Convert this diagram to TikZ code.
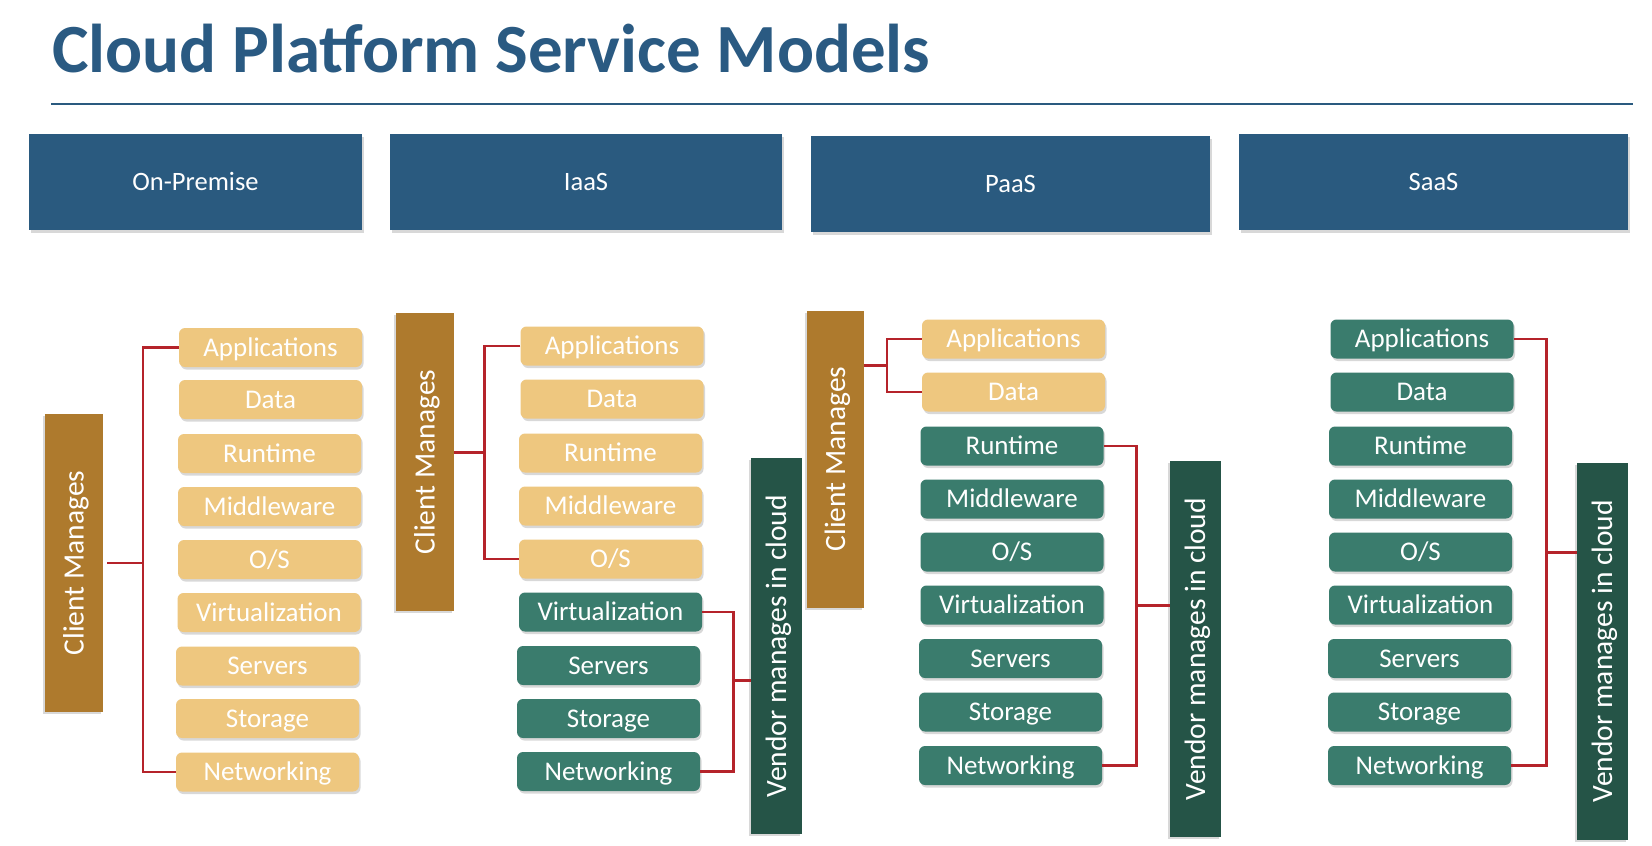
\documentclass[tikz,border=0pt]{standalone}
\usepackage{fontspec}
\setmainfont{Carlito}
\usetikzlibrary{shadows,calc}
\definecolor{cTitle}{HTML}{2A5A82}
\definecolor{cHdr}{HTML}{2A5A7F}
\definecolor{cTan}{HTML}{EEC77F}
\definecolor{cTeal}{HTML}{3A7C6D}
\definecolor{cBrown}{HTML}{AE7A2D}
\definecolor{cDk}{HTML}{255447}
\definecolor{cRed}{HTML}{B5232A}
\tikzset{
  base/.style={inner sep=0pt, text=white, align=center},
  hdr/.style={base, fill=cHdr, font=\fontsize{26.5}{32}\selectfont, text height=22pt, text depth=5pt,
    drop shadow={shadow xshift=2pt, shadow yshift=-3pt, opacity=0.3}},
  itm/.style={base, rounded corners=6pt, font=\fontsize{27}{32}\selectfont, text height=23pt, text depth=5.5pt,
    minimum width=183pt, minimum height=39pt,
    drop shadow={shadow xshift=1.5pt, shadow yshift=-2.5pt, opacity=0.3}},
  cli/.style={itm, fill=cTan},
  ven/.style={itm, fill=cTeal},
  side/.style={base, rotate=90, font=\fontsize{29.5}{35}\selectfont, text height=25pt, text depth=6pt,
    drop shadow={shadow xshift=-2pt, shadow yshift=-2pt, opacity=0.3}},
  cmb/.style={side, fill=cBrown},
  vmb/.style={side, fill=cDk},
  brk/.style={draw=cRed, line width=2.6pt},
}
\begin{document}
\begin{tikzpicture}[x=1pt,y=-1pt]
\useasboundingbox (0,0) rectangle (1652,846);
\fill[white] (0,0) rectangle (1652,846);

% title
\node[anchor=base west, font=\fontsize{69}{82}\selectfont\bfseries, text=cTitle, inner sep=0pt] (title) at (52,72) {Cloud Platform Service Models};
\coordinate (rl) at (51,104);
\coordinate (rr) at (1633,104);
\draw[cHdr, line width=2pt] (rl) -- (rr);

% headers
\node[hdr, minimum width=333pt, minimum height=96pt] (h1) at (195.5,182) {On-Premise};
\node[hdr, minimum width=392pt, minimum height=96pt] (h2) at (586,182) {IaaS};
\node[hdr, minimum width=399pt, minimum height=96pt] (h3) at (1010.5,184) {PaaS};
\node[hdr, minimum width=389pt, minimum height=96pt] (h4) at (1433.5,182) {SaaS};

% On-Premise
\node[cmb, minimum width=298pt, minimum height=58pt] (cm1) at (74,563) {Client Manages};
\begin{scope}[every node/.append style={minimum width=185pt}]
\node[cli] (a1) at (270.5,347.5) {Applications};
\node[cli] (a2) at (270.5,399.5) {Data};
\node[cli] (a3) at (269.5,453.5) {Runtime};
\node[cli] (a4) at (269.5,506.5) {Middleware};
\node[cli] (a5) at (269.5,559.5) {O/S};
\node[cli] (a6) at (269,612.5) {Virtualization};
\node[cli] (a7) at (267.5,666) {Servers};
\node[cli] (a8) at (267.5,718.5) {Storage};
\node[cli] (a9) at (267.5,772) {Networking};
\end{scope}
\draw[brk] (a1.west) -- ++(-36,0) |- (a9.west);
\draw[brk] ([xshift=4pt]cm1.south) -- ++(35,0);

% IaaS
\node[cmb, minimum width=298pt, minimum height=58pt] (cm2) at (425,462) {Client Manages};
\node[cli] (b1) at (612,346) {Applications};
\node[cli] (b2) at (612,399) {Data};
\node[cli] (b3) at (610.5,453) {Runtime};
\node[cli] (b4) at (610.5,506) {Middleware};
\node[cli] (b5) at (610.5,559) {O/S};
\node[ven] (b6) at (610.5,612) {Virtualization};
\node[ven] (b7) at (608.5,665.5) {Servers};
\node[ven] (b8) at (608.5,718.5) {Storage};
\node[ven] (b9) at (608.5,771.5) {Networking};
\node[vmb, minimum width=376pt, minimum height=51pt] (vm2) at (776.5,646) {Vendor manages in cloud};
\draw[brk] (b1.west) -- ++(-36,0) |- (b5.west);
\coordinate (mb) at ($(b1.west)!0.5!(b5.west)$);
\draw[brk] (cm2.south |- mb) -- ++(31,0);
\draw[brk] (b6.east) -- ++(31,0) |- (b9.east);
\coordinate (nb) at ($(b6.east)!0.43!(b9.east)$);
\draw[brk] (vm2.north |- nb) -- ++(-18,0);

% PaaS
\node[cmb, minimum width=297pt, minimum height=57pt] (cm3) at (835.5,459) {Client Manages};
\node[cli] (c1) at (1013.5,339) {Applications};
\node[cli] (c2) at (1013.5,392) {Data};
\node[ven] (c3) at (1012,446) {Runtime};
\node[ven] (c4) at (1012,499) {Middleware};
\node[ven] (c5) at (1012,552) {O/S};
\node[ven] (c6) at (1012,605) {Virtualization};
\node[ven] (c7) at (1010.5,658.5) {Servers};
\node[ven] (c8) at (1010.5,712) {Storage};
\node[ven] (c9) at (1010.5,765.5) {Networking};
\node[vmb, minimum width=376pt, minimum height=51pt] (vm3) at (1195.5,649) {Vendor manages in cloud};
\draw[brk] (c1.west) -- ++(-35,0) |- (c2.west);
\coordinate (mc) at ($(c1.west)!0.5!(c2.west)$);
\draw[brk] (cm3.south |- mc) -- ++(23,0);
\draw[brk] (c3.east) -- ++(33,0) |- (c9.east);
\coordinate (nc) at ($(c3.east)!0.5!(c9.east)$);
\draw[brk] (vm3.north |- nc) -- ++(-34,0);

% SaaS
\node[ven] (d1) at (1422,339) {Applications};
\node[ven] (d2) at (1422,392) {Data};
\node[ven] (d3) at (1420.5,446) {Runtime};
\node[ven] (d4) at (1420.5,499) {Middleware};
\node[ven] (d5) at (1420.5,552) {O/S};
\node[ven] (d6) at (1420.5,605) {Virtualization};
\node[ven] (d7) at (1419.5,658.5) {Servers};
\node[ven] (d8) at (1419.5,712) {Storage};
\node[ven] (d9) at (1419.5,765.5) {Networking};
\node[vmb, minimum width=377pt, minimum height=51pt] (vm4) at (1602.5,651) {Vendor manages in cloud};
\draw[brk] (d1.east) -- ++(33,0) |- (d9.east);
\coordinate (nd) at ($(d1.east)!0.5!(d9.east)$);
\draw[brk] (vm4.north |- nd) -- ++(-31,0);
\end{tikzpicture}
\end{document}
